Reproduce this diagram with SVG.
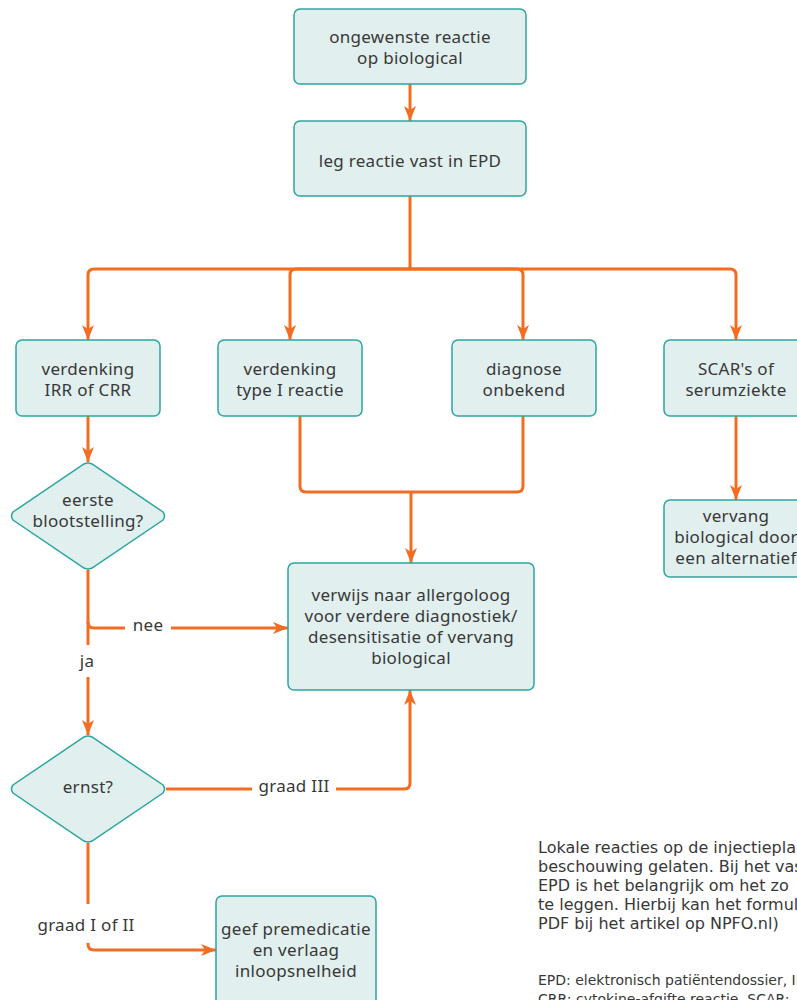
<svg xmlns="http://www.w3.org/2000/svg" width="797" height="1000" viewBox="0 0 797 1000">
<style>
.box{fill:#e1efee;stroke:#2ba6a0;stroke-width:1.5}
.t{font-family:"Noto Sans",Lato,sans-serif;font-size:17px;letter-spacing:0.3px;fill:#383838;text-anchor:middle}
.lbl{font-family:"Noto Sans",Lato,sans-serif;font-size:17px;letter-spacing:0.3px;fill:#383838;text-anchor:middle}
.c{fill:none;stroke:#f26d21;stroke-width:3}
.note{font-family:"DejaVu Sans",sans-serif;font-size:16px;fill:#383838}
.note2{font-family:"DejaVu Sans",sans-serif;font-size:14px;fill:#383838}
</style>
<defs>
<marker id="ah" markerUnits="userSpaceOnUse" markerWidth="16" markerHeight="12" refX="15" refY="6" orient="auto">
<path d="M0,0 L15,6 L0,12 L4,6 z" fill="#f26d21"/>
</marker>
</defs>
<rect width="797" height="1000" fill="#ffffff"/>
<g id="connectors">
<path class="c" d="M410,84 V121" marker-end="url(#ah)"/>
<path class="c" d="M410,196 V269"/>
<path class="c" d="M410,269 H94 Q88,269 88,275 V340" marker-end="url(#ah)"/>
<path class="c" d="M410,269 H296 Q290,269 290,275 V340" marker-end="url(#ah)"/>
<path class="c" d="M410,269 H517 Q523,269 523,275 V340" marker-end="url(#ah)"/>
<path class="c" d="M410,269 H730 Q736,269 736,275 V340" marker-end="url(#ah)"/>
<path class="c" d="M300,416 V486 Q300,492 306,492 H517 Q523,492 523,486 V416"/>
<path class="c" d="M411,492 V563" marker-end="url(#ah)"/>
<path class="c" d="M88,416 V462" marker-end="url(#ah)"/>
<path class="c" d="M736,416 V500" marker-end="url(#ah)"/>
<path class="c" d="M88,570 V735" marker-end="url(#ah)"/>
<path class="c" d="M88,622 Q88,628 94,628 H288" marker-end="url(#ah)"/>
<path class="c" d="M166,789 H404 Q410,789 410,783 V690" marker-end="url(#ah)"/>
<path class="c" d="M88,843 V944 Q88,950 94,950 H216" marker-end="url(#ah)"/>
<rect x="125" y="615" width="46" height="26" fill="#fff"/>
<text class="lbl" x="148" y="631">nee</text>
<rect x="74" y="645" width="28" height="32" fill="#fff"/>
<text class="lbl" x="87" y="667">ja</text>
<rect x="252" y="776" width="84" height="26" fill="#fff"/>
<text class="lbl" x="294" y="792">graad III</text>
<rect x="34" y="904" width="106" height="39" fill="#fff"/>
<text class="lbl" x="86" y="931">graad I of II</text>
</g>
<g id="n1"><rect class="box" x="294" y="9" width="232" height="75" rx="6"/>
<text class="t" x="410" y="43">ongewenste reactie</text><text class="t" x="410" y="64">op biological</text></g>
<g id="n2"><rect class="box" x="294" y="121" width="232" height="75" rx="6"/>
<text class="t" x="410" y="167">leg reactie vast in EPD</text></g>
<g id="n3"><rect class="box" x="16" y="340" width="144" height="76" rx="6"/>
<text class="t" x="88" y="375">verdenking</text><text class="t" x="88" y="396">IRR of CRR</text></g>
<g id="n4"><rect class="box" x="218" y="340" width="144" height="76" rx="6"/>
<text class="t" x="290" y="375">verdenking</text><text class="t" x="290" y="396">type I reactie</text></g>
<g id="n5"><rect class="box" x="452" y="340" width="144" height="76" rx="6"/>
<text class="t" x="524" y="375">diagnose</text><text class="t" x="524" y="396">onbekend</text></g>
<g id="n6"><rect class="box" x="664" y="340" width="144" height="76" rx="6"/>
<text class="t" x="736" y="375">SCAR's of</text><text class="t" x="736" y="396">serumziekte</text></g>
<g id="n7"><path class="box" d="M84,464 Q88,462 92,464 L163,512 Q166,516 163,520 L92,568 Q88,570 84,568 L13,520 Q10,516 13,512 Z"/>
<text class="t" x="88" y="506">eerste</text><text class="t" x="88" y="527">blootstelling?</text></g>
<g id="n8"><rect class="box" x="288" y="563" width="246" height="127" rx="6"/>
<text class="t" x="411" y="601">verwijs naar allergoloog</text><text class="t" x="411" y="622">voor verdere diagnostiek/</text><text class="t" x="411" y="643">desensitisatie of vervang</text><text class="t" x="411" y="664">biological</text></g>
<g id="n9"><rect class="box" x="664" y="500" width="144" height="77" rx="6"/>
<text class="t" x="736" y="522">vervang</text><text class="t" x="736" y="543">biological door</text><text class="t" x="736" y="564">een alternatief</text></g>
<g id="n10"><path class="box" d="M84,737 Q88,735 92,737 L163,785 Q166,789 163,793 L92,841 Q88,843 84,841 L13,793 Q10,789 13,785 Z"/>
<text class="t" x="88" y="793">ernst?</text></g>
<g id="n11"><rect class="box" x="216" y="896" width="160" height="120" rx="6"/>
<text class="t" x="296" y="935">geef premedicatie</text><text class="t" x="296" y="956">en verlaag</text><text class="t" x="296" y="977">inloopsnelheid</text></g>
<g id="note">
<text class="note" x="538" y="853">Lokale reacties op de injectieplaats</text>
<text class="note" x="538" y="872">beschouwing gelaten. Bij het vastleggen</text>
<text class="note" x="538" y="891">EPD is het belangrijk om het zo</text>
<text class="note" x="538" y="910">te leggen. Hierbij kan het formulier</text>
<text class="note" x="538" y="929">PDF bij het artikel op NPFO.nl)</text>
<text class="note2" x="538" y="985">EPD: elektronisch patiëntendossier, IRR:</text>
<text class="note2" x="538" y="1004">CRR: cytokine-afgifte reactie, SCAR:</text>
</g>
</svg>
